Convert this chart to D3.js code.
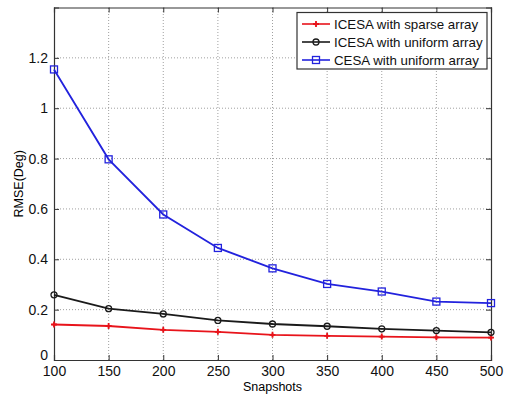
<!DOCTYPE html>
<html>
<head>
<meta charset="utf-8">
<script src="https://cdn.jsdelivr.net/npm/d3@7"></script>
<style>
  body { margin: 0; background: #fff; }
  svg { font-family: "Liberation Sans", Arial, sans-serif; }
  .grid line { stroke: #888; stroke-dasharray: 1 2; stroke-width: 0.8; }
</style>
</head>
<body>
<div class="graph"></div>
<script>
const snapshots = [100, 150, 200, 250, 300, 350, 400, 450, 500];
const icesaSparse = [0.141, 0.135, 0.120, 0.112, 0.100, 0.096, 0.093, 0.090, 0.089];
const icesaUniform = [0.259, 0.204, 0.183, 0.157, 0.143, 0.134, 0.124, 0.117, 0.110];
const cesaUniform = [1.154, 0.797, 0.578, 0.445, 0.364, 0.302, 0.272, 0.232, 0.226];
const yTicks = [0, 0.2, 0.4, 0.6, 0.8, 1, 1.2];
const seriesNames = ['ICESA with sparse array', 'ICESA with uniform array', 'CESA with uniform array'];

const width = 508;
const height = 398;
const margin = {top: 7.5, right: 17, bottom: 38, left: 54};

const color = {
  sparse: '#e8141b',
  uniform: '#1a1a1a',
  cesa: '#2222dd',
  axis: '#333',
};

const series = [
  {name: seriesNames[0], values: icesaSparse, color: color.sparse, marker: 'plus'},
  {name: seriesNames[1], values: icesaUniform, color: color.uniform, marker: 'circle'},
  {name: seriesNames[2], values: cesaUniform, color: color.cesa, marker: 'square'},
];

const svg = d3.select('.graph')
  .append('svg')
    .attr('width', width)
    .attr('height', height);

const x = d3.scaleLinear()
  .domain([100, 500])
  .range([margin.left, width - margin.right]);

const y = d3.scaleLinear()
  .domain([0, 1.4])
  .range([height - margin.bottom, margin.top]);

// grid
svg.append('g')
  .attr('class', 'grid')
  .selectAll('line')
  .data(snapshots.slice(1, -1))
  .join('line')
    .attr('x1', d => x(d)).attr('x2', d => x(d))
    .attr('y1', y(0)).attr('y2', y(1.4));

svg.append('g')
  .attr('class', 'grid')
  .selectAll('line')
  .data(yTicks.slice(1))
  .join('line')
    .attr('x1', x(100)).attr('x2', x(500))
    .attr('y1', d => y(d)).attr('y2', d => y(d));

// axes
svg.append('g')
  .attr('transform', `translate(0, ${y(0)})`)
  .call(d3.axisBottom(x).tickValues(snapshots).tickSize(-5).tickPadding(6).tickFormat(d3.format('d')));

const yAxis = svg.append('g')
  .attr('transform', `translate(${x(100)}, 0)`)
  .call(d3.axisLeft(y).tickValues(yTicks).tickSize(-5).tickPadding(6).tickFormat(d => d));

// "0" sits just above the "100" label, as in the original
yAxis.selectAll('.tick text').filter(d => d === 0).attr('dy', '-0.05em');

svg.append('g')
  .attr('transform', `translate(0, ${y(1.4)})`)
  .call(d3.axisTop(x).tickValues(snapshots).tickSize(-5).tickFormat(''));

svg.append('g')
  .attr('transform', `translate(${x(500)}, 0)`)
  .call(d3.axisRight(y).tickValues(yTicks).tickSize(-5).tickFormat(''));

svg.selectAll('.domain').attr('stroke', color.axis).attr('stroke-width', 1.2);
svg.selectAll('.tick line').attr('stroke', color.axis);
svg.selectAll('.tick text')
  .attr('fill', '#111')
  .style('font-size', '14px');

svg.append('text')
  .attr('x', (x(100) + x(500)) / 2)
  .attr('y', 391)
  .attr('text-anchor', 'middle')
  .style('font-size', '12.5px')
  .text('Snapshots');

svg.append('text')
  .attr('transform', `translate(23, ${y(0.7)}) rotate(-90)`)
  .attr('text-anchor', 'middle')
  .style('font-size', '12.5px')
  .text('RMSE(Deg)');

// lines and markers
const line = d3.line()
  .x((d, i) => x(snapshots[i]))
  .y(d => y(d));

function drawMarker(g, type, c) {
  if (type === 'square') {
    g.append('rect')
      .attr('x', -3.5).attr('y', -3.5)
      .attr('width', 7).attr('height', 7)
      .attr('fill', 'none').attr('stroke', c).attr('stroke-width', 1.3);
  } else if (type === 'circle') {
    g.append('circle')
      .attr('r', 3)
      .attr('fill', 'none').attr('stroke', c).attr('stroke-width', 1.3);
  } else {
    g.append('path')
      .attr('d', 'M-3,0H3M0,-3V3')
      .attr('stroke', c).attr('stroke-width', 1.8);
    g.append('circle').attr('r', 1.6).attr('fill', c);
  }
}

series.forEach(s => {
  svg.append('path')
    .datum(s.values)
    .attr('d', line)
    .attr('fill', 'none')
    .attr('stroke', s.color)
    .attr('stroke-width', 1.8);

  svg.append('g')
    .selectAll('g')
    .data(s.values)
    .join('g')
      .attr('transform', (d, i) => `translate(${x(snapshots[i])}, ${y(d)})`)
      .each(function() { drawMarker(d3.select(this), s.marker, s.color); });
});

// legend
const legend = svg.append('g').attr('transform', 'translate(297, 12.5)');

legend.append('rect')
  .attr('width', 190).attr('height', 56.5)
  .attr('fill', '#fff')
  .attr('stroke', color.axis).attr('stroke-width', 1.2);

series.forEach((s, i) => {
  const row = legend.append('g').attr('transform', `translate(0, ${11.5 + i * 18})`);
  row.append('line')
    .attr('x1', 5).attr('x2', 33)
    .attr('stroke', s.color).attr('stroke-width', 1.6);
  drawMarker(row.append('g').attr('transform', 'translate(19, 0)'), s.marker, s.color);
  row.append('text')
    .attr('x', 37).attr('dy', '0.35em')
    .style('font-size', '13.3px')
    .attr('fill', '#111')
    .text(s.name);
});
</script>
</body>
</html>
